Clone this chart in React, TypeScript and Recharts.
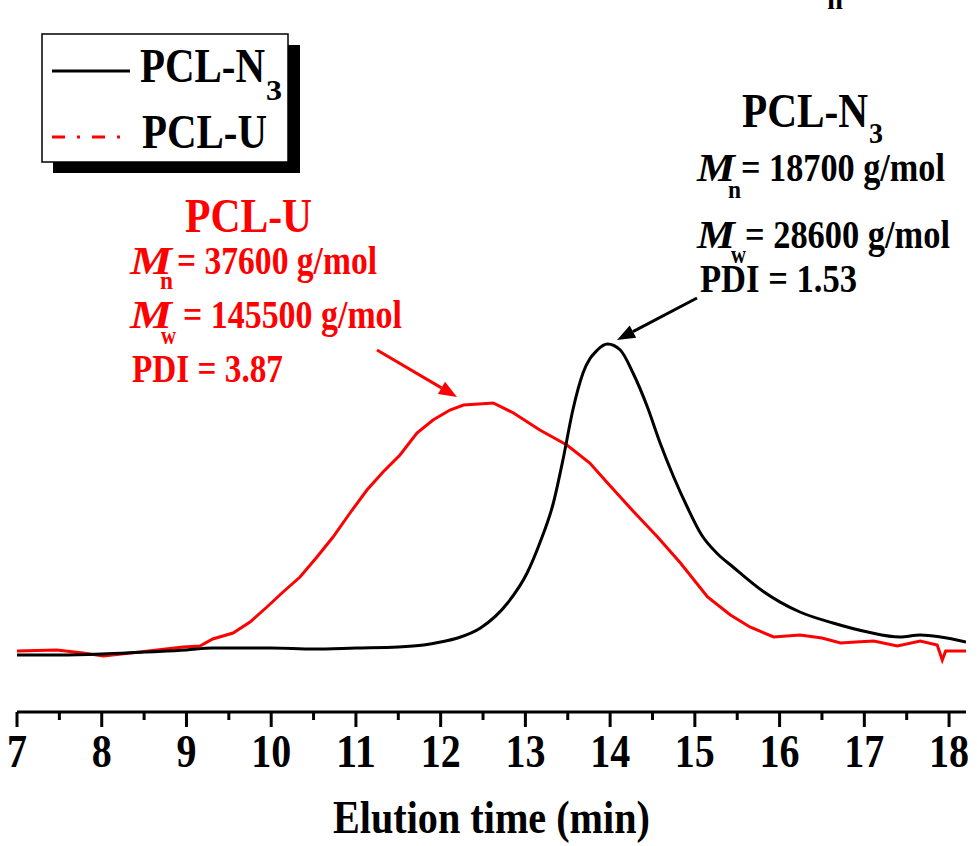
import { LineChart, Line, XAxis, YAxis } from "recharts";

const FONT = "'Liberation Serif', 'Times New Roman', serif";

// PCL-N3 trace (elution time in min, detector signal in arbitrary units)
const n3Time = [
  7.0, 7.5, 8.0, 8.5, 9.0, 9.3, 10.0, 10.5, 11.0, 11.5, 11.8, 12.0, 12.2, 12.47,
  12.79, 13.02, 13.17, 13.33, 13.45, 13.56, 13.68, 13.85, 13.97, 14.12, 14.27,
  14.44, 14.59, 14.75, 14.91, 15.08, 15.27, 15.45, 15.8, 16.24, 16.63, 17.04,
  17.42, 17.66, 17.9, 18.2,
];
const n3Signal = [
  57, 57, 58, 60, 62, 64, 64, 63, 64, 65, 67, 70, 74, 84, 109, 139, 169, 209,
  255, 302, 339, 362, 368, 362, 339, 305, 269, 235, 205, 177, 158, 145, 121, 100,
  89, 80, 75, 77, 75, 70,
];

// PCL-U trace
const uTime = [
  7.0, 7.47, 7.78, 8.02, 8.45, 8.96, 9.16, 9.31, 9.55, 9.75, 9.95, 10.14, 10.34,
  10.54, 10.73, 10.93, 11.13, 11.32, 11.52, 11.72, 11.91, 12.11, 12.27, 12.45,
  12.62, 12.86, 13.17, 13.49, 13.76, 13.97, 14.27, 14.56, 14.83, 15.15, 15.42,
  15.65, 15.93, 16.24, 16.5, 16.72, 16.9, 17.11, 17.39, 17.66, 17.86, 17.92,
  17.96, 18.2,
];
const uSignal = [
  61, 62, 59, 56, 60, 65, 66, 73, 79, 90, 105, 120, 135, 155, 175, 199, 222,
  240, 257, 279, 292, 302, 307, 308, 309, 299, 282, 267, 249, 229, 201, 175, 149,
  115, 97, 85, 75, 77, 74, 69, 70, 71, 66, 71, 67, 52, 61, 61,
];

const xTicks = [
  7, 7.5, 8, 8.5, 9, 9.5, 10, 10.5, 11, 11.5, 12, 12.5, 13, 13.5, 14, 14.5, 15,
  15.5, 16, 16.5, 17, 17.5, 18,
];

const n3Data = n3Time.map((t, i) => ({ t, v: n3Signal[i] }));
const uData = uTime.map((t, i) => ({ t, v: uSignal[i] }));

function BottomTick(props: any) {
  const { x, y, payload } = props;
  const major = Number.isInteger(payload.value);
  const label = String(payload.value);
  return (
    <g>
      <line x1={x} y1={y} x2={x} y2={y + (major ? 15 : 8)} stroke="#000" strokeWidth={3} />
      {major && (
        <text
          x={x}
          y={y + 55}
          textAnchor="middle"
          fontFamily={FONT}
          fontWeight="bold"
          fontSize={47}
          textLength={label.length * 20}
          lengthAdjust="spacingAndGlyphs"
          fill="#000"
        >
          {label}
        </text>
      )}
    </g>
  );
}

function T({ x, y, w, size, color = "#000", italic = false, children }: any) {
  return (
    <text
      x={x}
      y={y}
      fontFamily={FONT}
      fontWeight="bold"
      fontStyle={italic ? "italic" : "normal"}
      fontSize={size}
      fill={color}
      textLength={w}
      lengthAdjust="spacingAndGlyphs"
    >
      {children}
    </text>
  );
}

function Arrow({ x1, y1, x2, y2, color }: any) {
  const dx = x2 - x1;
  const dy = y2 - y1;
  const len = Math.hypot(dx, dy);
  const ux = dx / len;
  const uy = dy / len;
  const bx = x2 - ux * 18;
  const by = y2 - uy * 18;
  const px = -uy * 7;
  const py = ux * 7;
  return (
    <g>
      <line x1={x1} y1={y1} x2={bx} y2={by} stroke={color} strokeWidth={3} />
      <polygon
        points={`${x2},${y2} ${bx + px},${by + py} ${bx - px},${by - py}`}
        fill={color}
      />
    </g>
  );
}

export default function App() {
  return (
    <div style={{ position: "absolute", left: 0, top: 0, width: 977, height: 846, background: "#fff" }}>
      <LineChart
        width={977}
        height={846}
        margin={{ top: 11, right: 11, bottom: 0, left: 17 }}
      >
        <XAxis
          dataKey="t"
          type="number"
          domain={[7, 18.2]}
          allowDataOverflow
          ticks={xTicks}
          interval={0}
          tickLine={false}
          tickSize={0}
          tickMargin={0}
          height={134}
          axisLine={{ stroke: "#000", strokeWidth: 3 }}
          tick={<BottomTick />}
        />
        <XAxis
          xAxisId="top"
          orientation="top"
          dataKey="t"
          type="number"
          domain={[7, 18.2]}
          allowDataOverflow
          ticks={xTicks}
          interval={0}
          height={0}
          tick={false}
          tickSize={3}
          tickLine={{ stroke: "#000", strokeWidth: 2 }}
          axisLine={{ stroke: "#000", strokeWidth: 3 }}
        />
        <YAxis
          type="number"
          domain={[0, 701]}
          allowDataOverflow
          width={0}
          tick={false}
          tickLine={false}
          axisLine={{ stroke: "#000", strokeWidth: 3 }}
        />
        <YAxis
          yAxisId="right"
          orientation="right"
          type="number"
          domain={[0, 701]}
          width={0}
          tick={false}
          tickLine={false}
          axisLine={{ stroke: "#000", strokeWidth: 3 }}
        />
        <Line
          data={uData}
          dataKey="v"
          type="linear"
          stroke="#ff0000"
          strokeWidth={3}
          dot={false}
          isAnimationActive={false}
        />
        <Line
          data={n3Data}
          dataKey="v"
          type="monotone"
          stroke="#000"
          strokeWidth={3}
          dot={false}
          isAnimationActive={false}
        />
      </LineChart>

      <svg
        width={977}
        height={846}
        style={{ position: "absolute", left: 0, top: 0, pointerEvents: "none" }}
      >
        {/* cut-off subscript from a caption above */}
        <T x={827} y={9} w={16} size={26}>n</T>

        {/* legend */}
        <rect x={53} y={45} width={247} height={128} fill="#000" />
        <rect x={42} y={34} width={246} height={128} fill="#fff" stroke="#000" strokeWidth={1.5} />
        <line x1={52} y1={71} x2={130} y2={71} stroke="#000" strokeWidth={3} />
        <T x={140} y={82} w={125} size={48}>PCL-N</T>
        <T x={266} y={100} w={16} size={30}>3</T>
        <line
          x1={52}
          y1={137}
          x2={123}
          y2={137}
          stroke="#ff0000"
          strokeWidth={3}
          strokeDasharray="13 12 3 12"
        />
        <T x={142} y={148} w={125} size={48}>PCL-U</T>

        {/* PCL-N3 annotation */}
        <T x={742} y={127} w={126} size={48}>PCL-N</T>
        <T x={869} y={143} w={14} size={30}>3</T>
        <T x={697} y={181} w={38} size={40} italic>M</T>
        <T x={728} y={198} w={13} size={26}>n</T>
        <T x={741} y={181} w={204} size={40}>= 18700 g/mol</T>
        <T x={697} y={248} w={38} size={40} italic>M</T>
        <T x={731} y={263} w={15} size={26}>w</T>
        <T x={745} y={248} w={205} size={40}>= 28600 g/mol</T>
        <T x={700} y={292} w={157} size={40}>PDI = 1.53</T>
        <Arrow x1={697} y1={298} x2={617} y2={340} color="#000" />

        {/* PCL-U annotation */}
        <T x={185} y={232} w={127} size={48} color="#ff0000">PCL-U</T>
        <T x={130} y={274} w={42} size={40} color="#ff0000" italic>M</T>
        <T x={160} y={289} w={13} size={26} color="#ff0000">n</T>
        <T x={177} y={274} w={200} size={40} color="#ff0000">= 37600 g/mol</T>
        <T x={130} y={328} w={42} size={40} color="#ff0000" italic>M</T>
        <T x={161} y={344} w={15} size={26} color="#ff0000">w</T>
        <T x={183} y={328} w={219} size={40} color="#ff0000">= 145500 g/mol</T>
        <T x={132} y={382} w={151} size={40} color="#ff0000">PDI = 3.87</T>
        <Arrow x1={377} y1={350} x2={457} y2={397} color="#ff0000" />

        {/* axis title */}
        <T x={333} y={833} w={317} size={47}>Elution time (min)</T>
      </svg>
    </div>
  );
}
